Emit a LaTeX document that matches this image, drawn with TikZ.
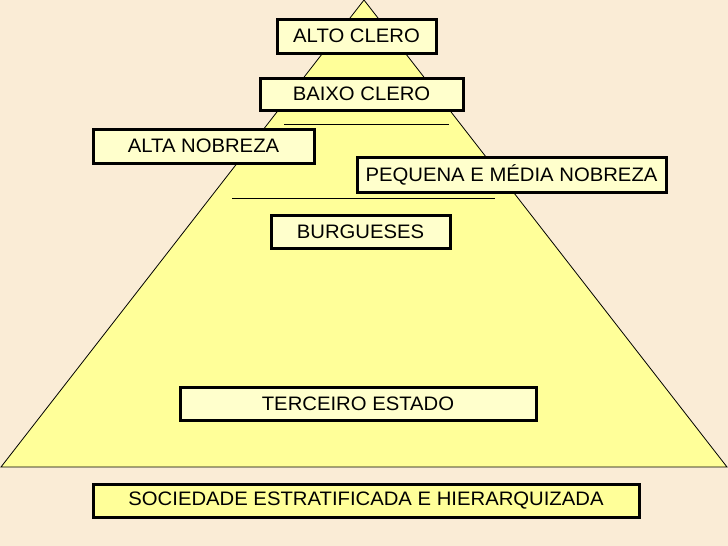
\documentclass[tikz,border=0pt]{standalone}
\usepackage{fontspec}
\setmainfont{Liberation Sans}[FakeStretch=1.04]
\definecolor{bgbeige}{RGB}{250,236,214}
\definecolor{pyryellow}{RGB}{255,255,153}
\definecolor{boxyellow}{RGB}{255,255,204}
\newcommand{\lbl}[1]{\raisebox{-1.5pt}{#1}}
\begin{document}
\begin{tikzpicture}[x=1pt,y=-1pt,
  lvlbox/.style={draw=black,line width=3pt,fill=boxyellow,inner sep=0pt,
     font=\fontsize{19.5}{22}\selectfont,text=black},
  sepline/.style={draw=black,line width=0.8pt}]
\fill[bgbeige] (0,0) rectangle (728,546);
\useasboundingbox (0,0) rectangle (728,546);
% pyramid
\coordinate (apex) at (364,0);
\coordinate (bl) at (1,467);
\coordinate (br) at (727,467);
\filldraw[fill=pyryellow,draw=black,line width=0.8pt] (apex) -- (bl) -- (br) -- cycle;
% separator lines
\coordinate (l1a) at (284,124); \coordinate (l1b) at (449,124);
\coordinate (l2a) at (232,198); \coordinate (l2b) at (495,198);
\draw[sepline] (l1a) -- (l1b);
\draw[sepline] (l2a) -- (l2b);
% boxes
\node[lvlbox,minimum width=159pt,minimum height=34pt] (altoclero) at (356.5,36) {\lbl{ALTO CLERO}};
\node[lvlbox,minimum width=203pt,minimum height=32pt] (baixoclero) at (361.5,94) {\lbl{BAIXO CLERO}};
\node[lvlbox,minimum width=221pt,minimum height=34pt] (altanob) at (203.5,146) {\lbl{ALTA NOBREZA}};
\node[lvlbox,minimum width=309pt,minimum height=35pt] (pequena) at (511.5,174.5) {\lbl{PEQUENA E MÉDIA NOBREZA}};
\node[lvlbox,minimum width=179pt,minimum height=33pt] (burgueses) at (360.5,231.5) {\lbl{BURGUESES}};
\node[lvlbox,minimum width=356pt,minimum height=33pt] (terceiro) at (358,403.5) {\lbl{TERCEIRO ESTADO}};
\node[lvlbox,fill=pyryellow,minimum width=546pt,minimum height=33pt] (sociedade) at (366,500.5) {\lbl{SOCIEDADE ESTRATIFICADA E HIERARQUIZADA}};
\end{tikzpicture}
\end{document}
